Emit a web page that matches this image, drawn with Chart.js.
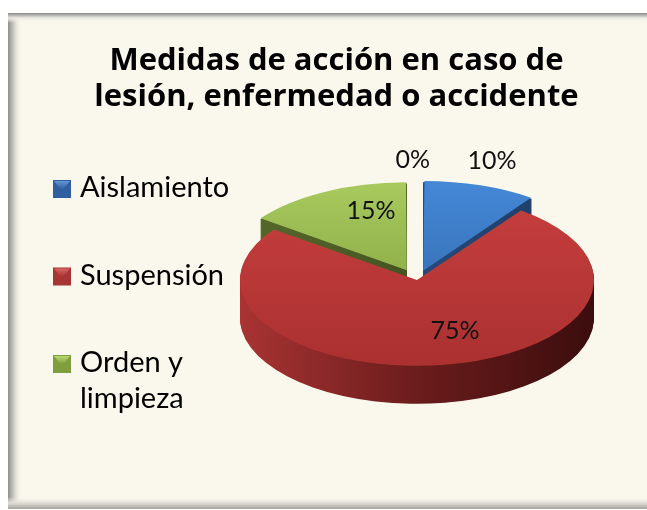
<!DOCTYPE html>
<html>
<head>
<meta charset="utf-8">
<script src="https://cdn.jsdelivr.net/npm/chart.js@4.4.1/dist/chart.umd.min.js"></script>
<style>
  html, body { margin: 0; padding: 0; background: #fff; }
  canvas { display: block; }
</style>
</head>
<body>
<canvas id="pie" width="647" height="510"></canvas>
<script>
// --- DATA ---
const categories = ['Aislamiento', 'Suspensión', 'Orden y limpieza', ''];
const values = [10, 75, 15, 0];
const legendLines = [['Aislamiento'], ['Suspensión'], ['Orden y', 'limpieza']];
const titleLines = ['Medidas de acción en caso de', 'lesión, enfermedad o accidente'];

// --- LOOK ---
const FONT = 'Lato, "Open Sans", sans-serif';
const TITLE_FONT = '"Open Sans", Lato, sans-serif';
const topColors = [['#4487d5', '#2f63a6'], ['#c63f3e', '#ab3030'], ['#a7c95d', '#7c9a39'], ['#8064a2', '#8064a2']];
const sideColors = [['#2e5a92', '#1d3a63'], ['#a83433', '#6b1c1c', '#3b0d0d'], ['#56692b', '#323f18'], ['#5d4877', '#5d4877']];
const legendColors = [['#6a9fe0', '#2f5f9e'], ['#e06a68', '#a83533'], ['#c2e07a', '#7f9e3c']];
const explode = [80, 0, 90, 0]; // chart.js moves a slice by offset / 4
const VIEW = { x: 417, y: 280, tilt: 0.485, depth: 38, radius: 177 };
const labelSpot = [{ r: 1.45, turn: -1 }, { r: 0.63, turn: -11 }, { r: 0.84, turn: 9 }, { r: 1.40, turn: -1 }];

// --- HELPERS ---
function pieCenter(chart) {
    const a = chart.chartArea;
    return { x: (a.left + a.right) / 2, y: (a.top + a.bottom) / 2 };
}

// map chart space (pie centre cx, cy) onto the tilted view, dropped by `drop` px
function setView(ctx, cx, cy, drop) {
    ctx.translate(VIEW.x, VIEW.y + drop);
    ctx.scale(1, VIEW.tilt);
    ctx.translate(-cx, -cy);
}

// same outline chart.js uses for an exploded arc
function slicePath(ctx, arc) {
    const p = arc.getProps(['x', 'y', 'startAngle', 'endAngle', 'outerRadius'], true);
    const off = (arc.options.offset || 0) / 4;
    const mid = (p.startAngle + p.endAngle) / 2;
    const fix = 1 - Math.sin(Math.min(Math.PI, p.endAngle - p.startAngle));
    const r = p.outerRadius + off * fix;
    const ox = p.x + Math.cos(mid) * off, oy = p.y + Math.sin(mid) * off;
    ctx.beginPath();
    ctx.moveTo(ox, oy);
    ctx.arc(ox, oy, r, p.startAngle, p.endAngle);
    ctx.closePath();
}

function gradient(ctx, x0, y0, x1, y1, stops) {
    const g = ctx.createLinearGradient(x0, y0, x1, y1);
    stops.forEach((c, i) => g.addColorStop(i / (stops.length - 1), c));
    return g;
}

// --- PLUGINS ---
const framePlugin = {
    id: 'frame',
    beforeDraw(chart) {
        const ctx = chart.ctx;
        ctx.save();
        ctx.fillStyle = '#fff';
        ctx.fillRect(0, 0, chart.width, chart.height);
        const L = 8, T = 13, R = 647, B = 509;
        ctx.fillStyle = '#faf8ed';
        ctx.fillRect(L, T, R - L, B - T);
        // bevel: left, top, bottom
        ctx.fillStyle = gradient(ctx, L, 0, L + 14, 0, ['#8e8e8a', '#d9d8d0', 'rgba(250,248,237,0)']);
        ctx.fillRect(L, T, 14, B - T);
        ctx.fillStyle = gradient(ctx, 0, T, 0, T + 10, ['#8a8a88', '#ecebe2', 'rgba(250,248,237,0)']);
        ctx.fillRect(L, T, R - L, 10);
        ctx.fillStyle = gradient(ctx, 0, B - 12, 0, B, ['rgba(250,248,237,0)', '#dedcd2', '#a3a29c']);
        ctx.fillRect(L, B - 12, R - L, 12);
        ctx.restore();
    }
};

const tiltPlugin = {
    id: 'tilt',
    beforeDatasetsDraw(chart) {
        const ctx = chart.ctx;
        const arcs = chart.getDatasetMeta(0).data;
        const c = pieCenter(chart);
        const R = VIEW.radius;
        // side walls: back slices first, stacked layers give the depth
        const order = arcs.map((a, i) => i)
            .filter(i => arcs[i].circumference > 0)
            .sort((i, j) => {
                const mi = (arcs[i].startAngle + arcs[i].endAngle) / 2;
                const mj = (arcs[j].startAngle + arcs[j].endAngle) / 2;
                return Math.sin(mi) - Math.sin(mj);
            });
        order.forEach(i => {
            for (let d = VIEW.depth; d >= 1; d -= 1) {
                ctx.save();
                setView(ctx, c.x, c.y, d);
                ctx.fillStyle = gradient(ctx, c.x - R, 0, c.x + R, 0, sideColors[i]);
                slicePath(ctx, arcs[i]);
                ctx.fill();
                ctx.restore();
            }
        });
        ctx.save();
        setView(ctx, c.x, c.y, 0);
    },
    afterDatasetsDraw(chart) {
        chart.ctx.restore();
    },
    afterDraw(chart) {
        const ctx = chart.ctx;
        const arcs = chart.getDatasetMeta(0).data;
        const total = values.reduce((s, v) => s + v, 0);
        ctx.save();
        // percentage labels
        ctx.font = '25px ' + FONT;
        ctx.fillStyle = '#111';
        ctx.textAlign = 'center';
        ctx.textBaseline = 'middle';
        arcs.forEach((arc, i) => {
            const mid = (arc.startAngle + arc.endAngle) / 2 + labelSpot[i].turn * Math.PI / 180;
            const rho = labelSpot[i].r * VIEW.radius;
            const x = VIEW.x + rho * Math.cos(mid);
            const y = VIEW.y + VIEW.tilt * rho * Math.sin(mid);
            ctx.fillText(Math.round(values[i] / total * 100) + '%', x, y);
        });
        // legend
        ctx.font = '29px ' + FONT;
        ctx.textAlign = 'left';
        ctx.textBaseline = 'alphabetic';
        legendLines.forEach((lines, i) => {
            const base = 197 + i * 87.5;
            const mx = 53, my = base - 17, s = 18;
            ctx.fillStyle = legendColors[i][1];
            ctx.fillRect(mx, my, s, s);
            ctx.fillStyle = gradient(ctx, 0, my, 0, my + s / 2, legendColors[i]);
            ctx.beginPath();
            ctx.moveTo(mx + 1, my + 1);
            ctx.lineTo(mx + s - 1, my + 1);
            ctx.lineTo(mx + s / 2, my + s / 2 + 2);
            ctx.closePath();
            ctx.fill();
            ctx.fillStyle = '#000';
            lines.forEach((t, k) => ctx.fillText(t, 80, base + k * 36));
        });
        ctx.restore();
    }
};

// --- CHART ---
new Chart(document.getElementById('pie'), {
    type: 'pie',
    data: {
        labels: categories,
        datasets: [{
            data: values,
            radius: VIEW.radius,
            offset: explode,
            borderWidth: 0,
            clip: false,
            backgroundColor: ctx => {
                const chart = ctx.chart;
                if (!chart.chartArea) return topColors[ctx.dataIndex][0];
                const c = pieCenter(chart);
                return gradient(chart.ctx, 0, c.y - VIEW.radius, 0, c.y + VIEW.radius, topColors[ctx.dataIndex]);
            }
        }]
    },
    options: {
        responsive: false,
        animation: false,
        devicePixelRatio: 1,
        layout: { padding: { left: 26 } },
        plugins: {
            legend: { display: false },
            tooltip: { enabled: false },
            title: {
                display: true,
                text: titleLines,
                color: '#000',
                font: { family: TITLE_FONT, size: 31, weight: 'bold', lineHeight: 36 / 31 },
                padding: { top: 43, bottom: 10 }
            }
        }
    },
    plugins: [framePlugin, tiltPlugin]
});
</script>
</body>
</html>
